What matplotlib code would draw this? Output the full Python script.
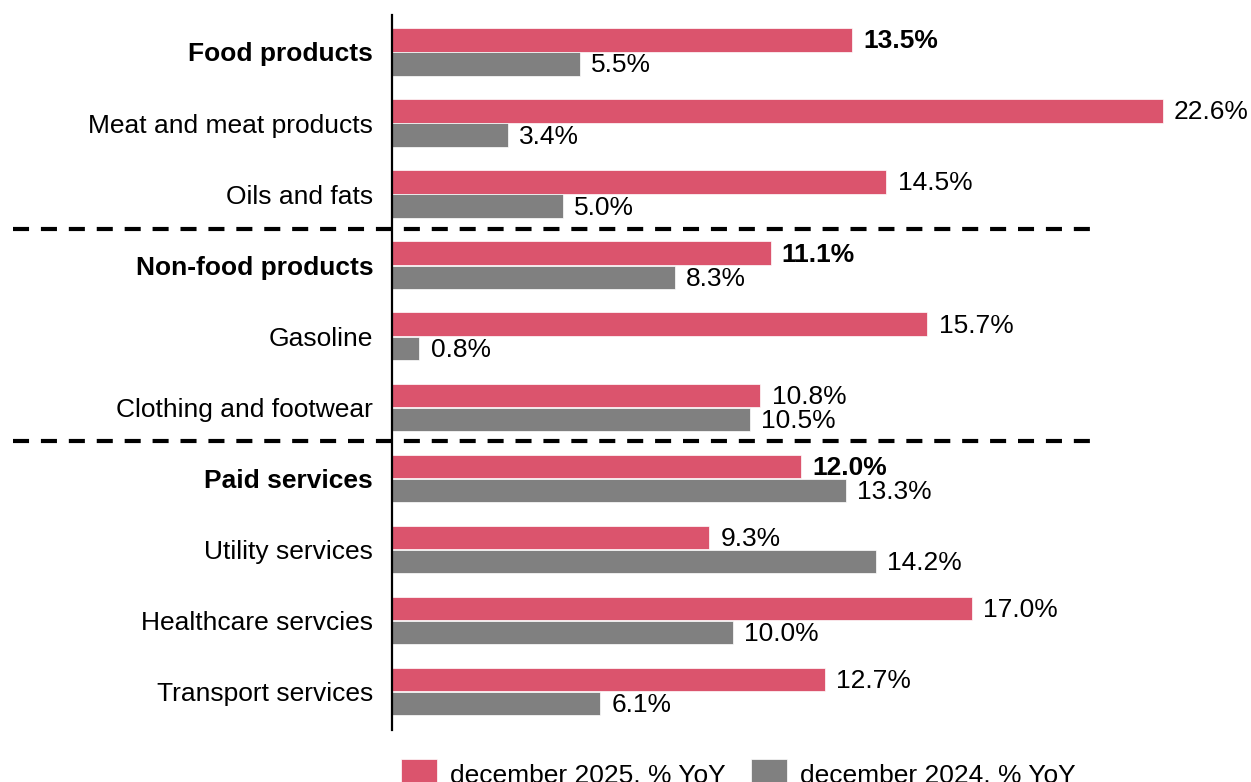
import matplotlib
matplotlib.use("Agg")
import matplotlib.pyplot as plt
import numpy as np

plt.rcParams['font.family'] = ['Liberation Sans', 'DejaVu Sans']

categories = [
    "Food products", "Meat and meat products", "Oils and fats",
    "Non-food products", "Gasoline", "Clothing and footwear",
    "Paid services", "Utility services", "Healthcare servcies",
    "Transport services",
]
headers = ["Food products", "Non-food products", "Paid services"]
dec_2025 = [13.5, 22.6, 14.5, 11.1, 15.7, 10.8, 12.0, 9.3, 17.0, 12.7]
dec_2024 = [5.5, 3.4, 5.0, 8.3, 0.8, 10.5, 13.3, 14.2, 10.0, 6.1]
series_names = ["december 2025, % YoY", "december 2024, % YoY"]

pink = "#DB546D"
grey = "#808080"
fs = 19

fig = plt.figure(figsize=(12.51, 7.82), dpi=100)
ax = fig.add_axes([392 / 1251, 52 / 782, (1251 - 392) / 1251, 715 / 782])

y = np.arange(len(categories))
h = 0.33
ax.barh(y - 0.17, dec_2025, height=h, color=pink, edgecolor="white", linewidth=0.5,
        label=series_names[0])
ax.barh(y + 0.17, dec_2024, height=h, color=grey, edgecolor="white", linewidth=0.5,
        label=series_names[1])

for i, cat in enumerate(categories):
    bold = cat in headers
    ax.text(dec_2025[i] + 0.33, y[i] - 0.15, f"{dec_2025[i]:.1f}%", va="center", ha="left",
            fontsize=fs, fontweight="bold" if bold else "normal")
    ax.text(dec_2024[i] + 0.33, y[i] + 0.19, f"{dec_2024[i]:.1f}%", va="center", ha="left",
            fontsize=fs)

ax.set_xlim(0, (1251 - 392) / 34.1)
ax.set_ylim(9.54, -0.52)
ax.set_yticks(y)
ax.set_yticklabels(categories, fontsize=fs)
for lbl in ax.get_yticklabels():
    if lbl.get_text() in headers:
        lbl.set_fontweight("bold")
ax.tick_params(axis="y", length=0, pad=13.5)
ax.set_xticks([])

for s in ["top", "right", "bottom"]:
    ax.spines[s].set_visible(False)
ax.spines["left"].set_linewidth(1.6)
ax.spines["left"].set_color("black")

# group separators, running out into the label area
for yy in [2.49, 5.47]:
    ax.plot([-11.12, 20.55], [yy, yy], color="black", lw=3, ls=(0, (3.85, 2.85)),
            clip_on=False)

ax.legend(loc="center left", bbox_to_anchor=(401 / 1251, 8 / 782),
          bbox_transform=fig.transFigure, ncol=2, frameon=False, fontsize=fs,
          handlelength=1.36, handleheight=1.36, handletextpad=0.5,
          columnspacing=0.95, borderaxespad=0, borderpad=0)

fig.savefig("out.png", dpi=100)
